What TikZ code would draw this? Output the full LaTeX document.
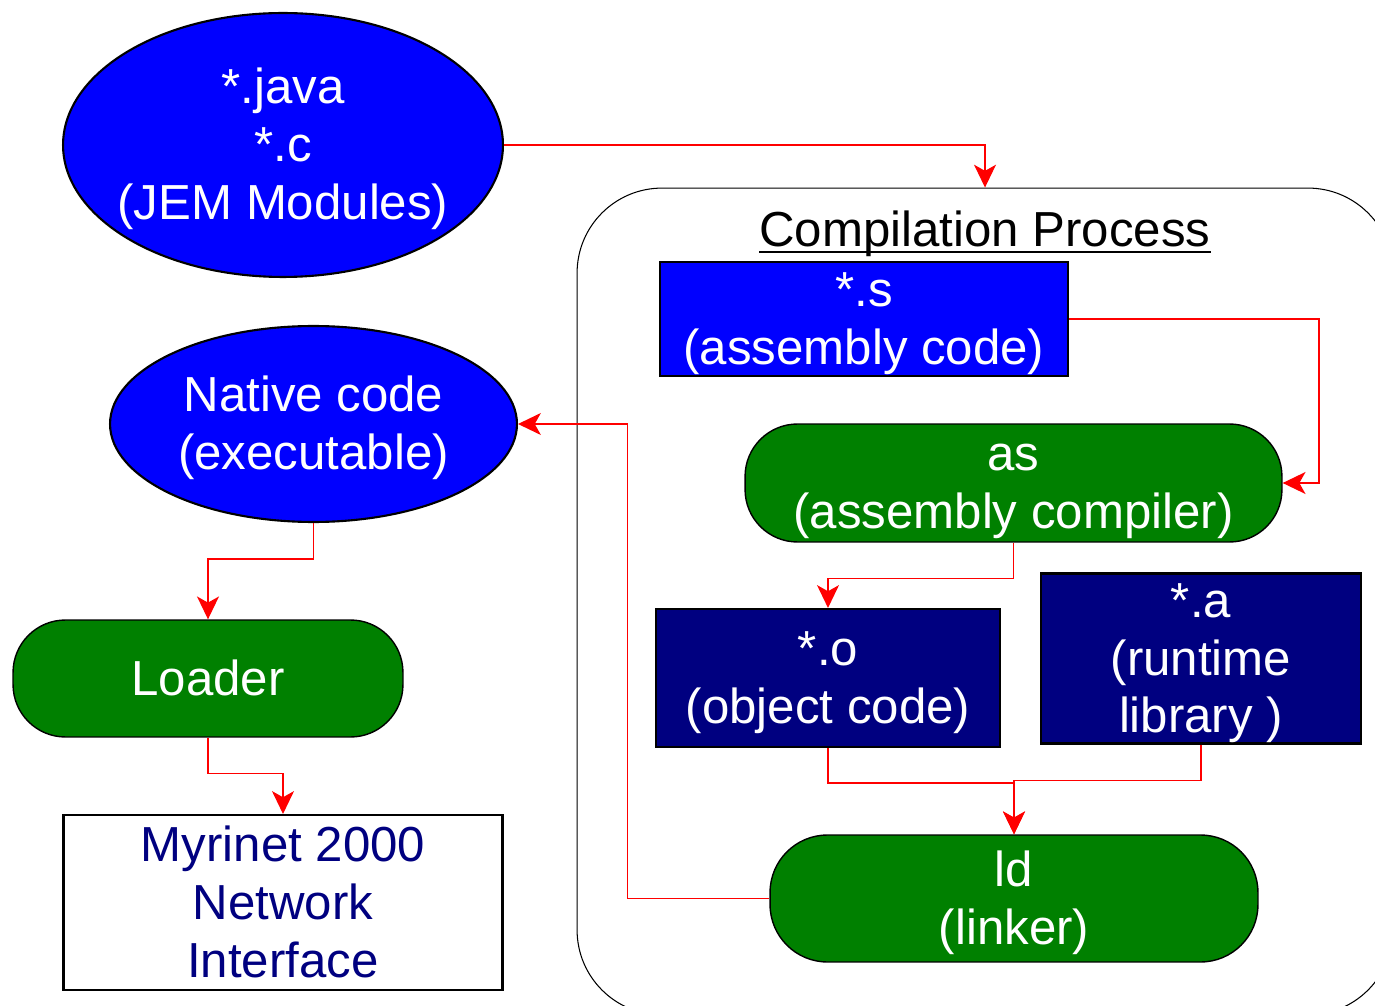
\documentclass[tikz,border=0pt]{standalone}
\usepackage{fontspec}
\setmainfont{Liberation Sans}
\usetikzlibrary{shapes.geometric,arrows.meta}
\definecolor{cblue}{RGB}{0,0,255}
\definecolor{cnavy}{RGB}{0,0,128}
\definecolor{cgreen}{RGB}{0,128,0}
\definecolor{cred}{RGB}{255,0,0}
% fixed first-line height and last-line depth, so every label sits alike
\newcommand{\topgap}{\rule{0pt}{25pt}}
\newcommand{\botgap}{\rule[-6pt]{0pt}{6pt}}
\tikzset{
  lbl/.style={font=\fontsize{28pt}{32.9pt}\selectfont, align=center, inner sep=0pt},
  whitelbl/.style={lbl, text=white},
  filebox/.style={draw=black, line width=1.2pt, rectangle, whitelbl},
  toolbox/.style={draw=black, line width=0.8pt, rectangle, rounded corners=1.05cm, fill=cgreen, whitelbl},
  ovalbox/.style={draw=black, line width=1.2pt, ellipse, fill=cblue, inner sep=0pt},
  conn/.style={draw=cred, line width=0.8pt, -{Stealth[length=13pt, width=12.5pt, inset=3.5pt]}},
}
\begin{document}
\begin{tikzpicture}[x=0.02cm, y=-0.02cm]
\useasboundingbox (0,0) rectangle (1375,1006);

% compilation container
\node[draw=black, line width=0.6pt, rounded corners=1.7cm, minimum width=16.32cm, minimum height=16.54cm, inner sep=0pt] (comp) at (985,601.5) {};
\node[lbl, text=black] (title) at (985,230) {\topgap Compilation Process\botgap};
\draw[line width=1.6pt] ([yshift=-3pt]title.base west) -- ([yshift=-3pt]title.base east);

% sources and executable
\node[ovalbox, minimum width=8.8cm, minimum height=5.28cm] (jem) at (283,145) {};
\node[whitelbl] (jemtext) at (jem.center) {\topgap*.java\\*.c\\(JEM Modules)\botgap};
\node[ovalbox, minimum width=8.14cm, minimum height=3.92cm] (nat) at (313.5,424) {};
\node[whitelbl] (nattext) at (nat.center) {\topgap Native code\\(executable)\botgap};

% left column
\node[toolbox, minimum width=7.8cm, minimum height=2.34cm] (loader) at (208,678.5) {\topgap Loader\botgap};
\node[draw=black, line width=1.2pt, fill=white, lbl, text=cnavy, minimum width=8.78cm, minimum height=3.5cm] (myr) at (283,902.5) {\topgap Myrinet 2000\\Network\\Interface\botgap};

% compilation steps
\node[filebox, fill=cblue, minimum width=8.16cm, minimum height=2.28cm] (asm) at (864,319) {\topgap*.s\\(assembly code)\botgap};
\node[toolbox, minimum width=10.74cm, minimum height=2.36cm] (as) at (1013.5,483) {\topgap as\\(assembly compiler)\botgap};
\node[filebox, fill=cnavy, minimum width=6.88cm, minimum height=2.76cm] (obj) at (828,678) {\topgap*.o\\(object code)\botgap};
\node[filebox, fill=cnavy, minimum width=6.4cm, minimum height=3.34cm] (lib) at (1201,658.5) {\topgap*.a\\(runtime\\library )\botgap};
\node[toolbox, rounded corners=1.15cm, minimum width=9.76cm, minimum height=2.54cm] (ld) at (1014,898.5) {\topgap ld\\(linker)\botgap};

% connectors
\draw[conn] (jem.east) -| (comp.north);
\draw[conn] (asm.east) -- ++(250,0) |- (as.east);
\draw[conn] (as.south) -- ++(0,36) -| (obj.north);
\draw[conn] (obj.south) -- ++(0,35) -| (ld.north);
\draw[conn] (lib.south) -- ++(0,36) -| (ld.north);
\draw[conn] (ld.west) -- ++(-142,0) |- (nat.east);
\draw[conn] (nat.south) -- ++(0,36) -| (loader.north);
\draw[conn] (loader.south) -- ++(0,36) -| (myr.north);
\end{tikzpicture}
\end{document}
